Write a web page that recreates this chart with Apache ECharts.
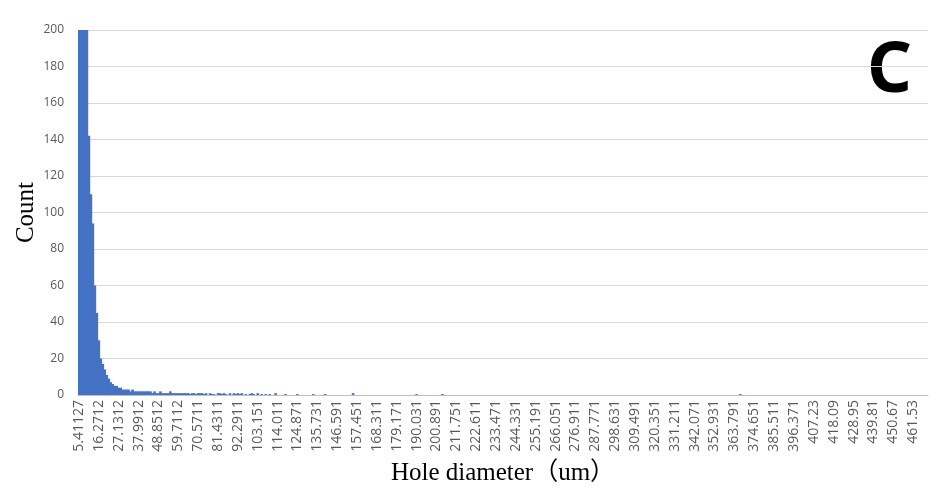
<!DOCTYPE html>
<html>
<head>
<meta charset="utf-8">
<script src="https://cdn.jsdelivr.net/npm/echarts@6/dist/echarts.min.js"></script>
<style>html,body{margin:0;padding:0;background:#fff;}#c{width:937px;height:490px;}</style>
</head>
<body>
<div id="c"></div>
<script>
// Tick labels shown on the x axis (every 10th bin)
const tickLabels = ["5.41127","16.2712","27.1312","37.9912","48.8512","59.7112","70.5711","81.4311","92.2911","103.151",
  "114.011","124.871","135.731","146.591","157.451","168.311","179.171","190.031","200.891","211.751",
  "222.611","233.471","244.331","255.191","266.051","276.911","287.771","298.631","309.491","320.351",
  "331.211","342.071","352.931","363.791","374.651","385.511","396.371","407.23","418.09","428.95",
  "439.81","450.67","461.53"];

// Counts per bin (first bins are clipped at 200)
const counts = [
  200,200,200,200,200,142,110,94,60,45,30,20,17,14,11,9,7,6,5,5,
  4,4,3,3,3,3,2,3,2,2,2,2,2,2,2,2,2,1,2,1,
  1,2,1,1,1,1,2,1,1,1,1,1,1,1,1,1,0.5,1,1,0.5,
  1,1,1,0.5,1,0,1,0.5,0.5,0,1,1,0.5,1,0.5,0,1,0,1,0.5,
  1,0.5,1,0,0.5,0,0.5,1,0.5,0,1,0,0.5,0,0.5,0,0.5,0,0,1,
  0,0,0,0,0.5,0,0,0,0,0,0.5,0,0,0,0,0,0,0,0.5,0,
  0,0,0,0,0.5,0,0,0,0,0,0,0,0,0,0,0,0,0,1,0,
  0,0,0,0,0,0,0,0,0,0,0,0,0,0,0,0,0,0,0,0,
  0,0,0,0,0,0,0,0,0,0,0.5,0,0,0,0,0,0,0,0,0,
  0,0,0,0.5,0,0,0,0,0,0,0,0,0,0,0,0,0,0,0,0,
  0,0,0,0,0,0,0,0,0,0,0,0,0,0,0,0,0,0,0,0,
  0,0,0,0,0,0,0,0,0,0,0,0,0,0,0,0,0,0,0,0,
  0,0,0,0,0,0,0,0,0,0,0,0,0,0,0,0,0,0,0,0,
  0,0,0,0,0,0,0,0,0,0,0,0,0,0,0,0,0,0,0,0,
  0,0,0,0,0,0,0,0,0,0,0,0,0,0,0,0,0,0,0,0,
  0,0,0,0,0,0,0,0,0,0,0,0,0,0,0,0,0,0,0,0,
  0,0,0,0,0,0,0,0,0,0,0,0,0,0.5,0,0,0,0,0,0,
  0,0,0,0,0,0,0,0,0,0,0,0,0,0,0,0,0,0,0,0,
  0,0,0,0,0,0,0,0,0,0,0,0,0,0,0,0,0,0,0,0,
  0,0,0,0,0,0,0,0,0,0,0,0,0,0,0,0,0,0,0,0,
  0,0,0,0,0,0,0,0,0,0,0,0,0,0,0,0,0,0,0,0,
  0,0,0,0,0,0,0,0
];
const categories = counts.map((_, i) => String(i));

const chart = echarts.init(document.getElementById('c'), null, {renderer: 'canvas'});
chart.setOption({
  animation: false,
  grid: {left: 78, right: 9, top: 30, bottom: 95, containLabel: false, outerBoundsMode: 'none'},
  xAxis: {
    type: 'category',
    data: categories,
    boundaryGap: true,
    name: 'Hole diameter（um）',
    nameLocation: 'middle',
    nameGap: 66,
    nameTextStyle: {fontFamily: 'Liberation Serif, "Noto Sans CJK SC", serif', fontSize: 25, color: '#000'},
    axisLine: {lineStyle: {color: '#bfbfbf', width: 1}},
    axisTick: {show: false},
    axisLabel: {
      interval: 9,
      rotate: 90,
      margin: 5,
      fontFamily: 'Open Sans',
      fontSize: 14,
      color: '#595959',
      formatter: (v, idx) => tickLabels[idx / 10] || ''
    }
  },
  yAxis: {
    type: 'value',
    min: 0, max: 200, interval: 20,
    name: 'Count',
    nameLocation: 'middle',
    nameGap: 39,
    nameMoveOverlap: false,
    nameTextStyle: {fontFamily: 'Liberation Serif, serif', fontSize: 25, color: '#000'},
    axisLine: {show: false},
    axisTick: {show: false},
    axisLabel: {fontFamily: 'Open Sans', fontSize: 12, color: '#595959', margin: 14},
    splitLine: {lineStyle: {color: '#d9d9d9', width: 1}}
  },
  series: [{
    type: 'bar',
    data: counts,
    barWidth: 2.6,
    itemStyle: {color: '#4472C4', borderWidth: 0},
    clip: true
  }],
  graphic: [{
    type: 'text',
    left: 867,
    top: 37,
    style: {text: 'C', font: 'bold 70px "Noto Sans", sans-serif', fill: '#000'}
  }]
});
</script>
</body>
</html>
